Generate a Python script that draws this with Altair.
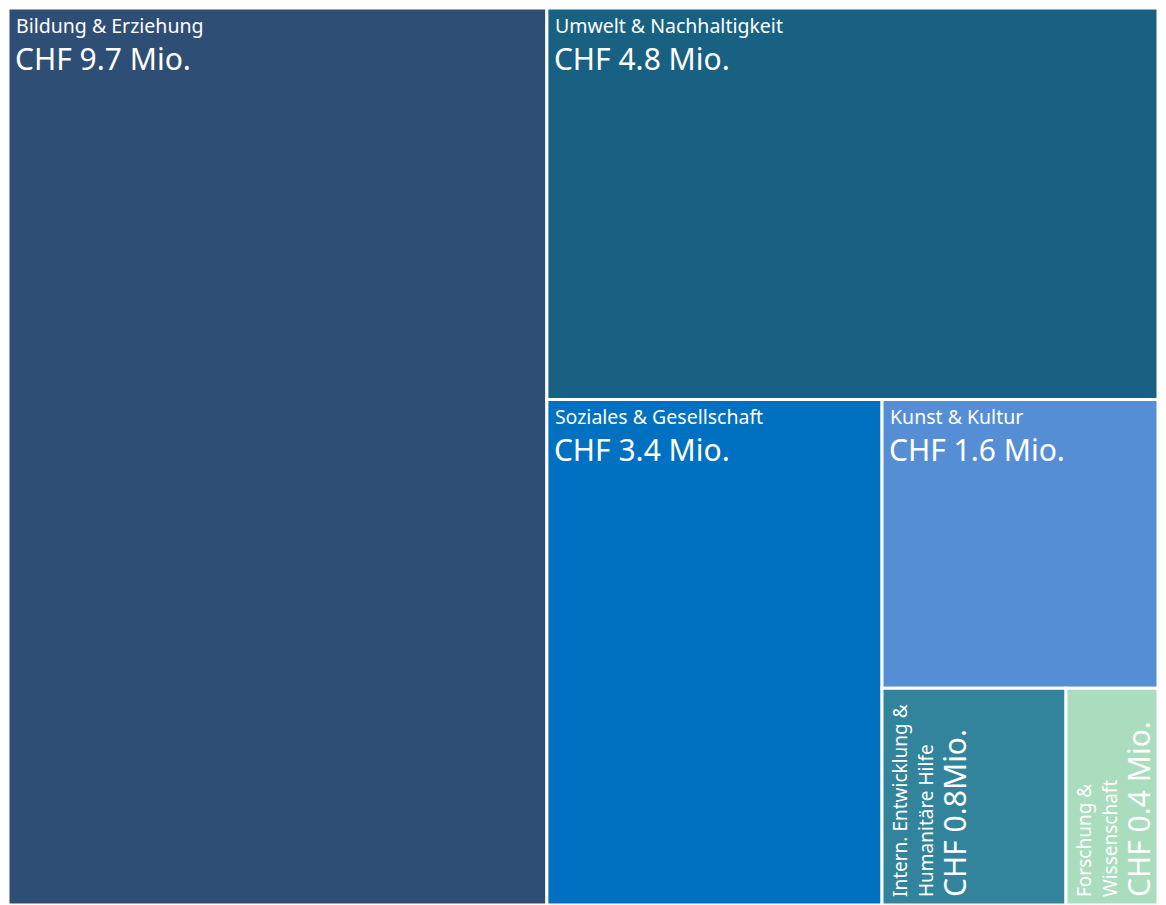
import altair as alt
import pandas as pd

# ---- data ----
categories = [
    "Bildung & Erziehung",
    "Umwelt & Nachhaltigkeit",
    "Soziales & Gesellschaft",
    "Kunst & Kultur",
    "Intern. Entwicklung &\nHumanitäre Hilfe",
    "Forschung &\nWissenschaft",
]
values = [9.7, 4.8, 3.4, 1.6, 0.8, 0.4]
value_labels = [
    "CHF 9.7 Mio.",
    "CHF 4.8 Mio.",
    "CHF 3.4 Mio.",
    "CHF 1.6 Mio.",
    "CHF 0.8Mio.",
    "CHF 0.4 Mio.",
]
colors = ["#2E4E76", "#186183", "#0070C0", "#558ED5", "#31849B", "#A9DDBE"]

W, H = 1150, 897
FONT = "Noto Sans"


def worst(row, side):
    s = sum(row)
    return max(max(side * side * r / (s * s), (s * s) / (side * side * r)) for r in row)


def squarify(vals, x, y, w, h):
    total = sum(vals)
    areas = [v * w * h / total for v in vals]
    rects = []
    rest = areas[:]
    while rest:
        side = min(w, h)
        row = [rest[0]]
        i = 1
        while i < len(rest) and worst(row + [rest[i]], side) <= worst(row, side):
            row.append(rest[i])
            i += 1
        s = sum(row)
        if w >= h:
            cw = s / h
            yy = y
            for r in row:
                rh = r / cw
                rects.append((x, x + cw, yy, yy + rh))
                yy += rh
            x += cw
            w -= cw
        else:
            rh = s / w
            xx = x
            for r in row:
                rw = r / rh
                rects.append((xx, xx + rw, y, y + rh))
                xx += rw
            y += rh
            h -= rh
        rest = rest[len(row):]
    return rects


rects = squarify(values, 0, 0, W, H)
df = pd.DataFrame(
    {
        "name": categories,
        "value": values,
        "vlabel": value_labels,
        "x0": [r[0] for r in rects],
        "x1": [r[1] for r in rects],
        "y0": [r[2] for r in rects],
        "y1": [r[3] for r in rects],
    }
)
df["vertical"] = (df["x1"] - df["x0"]) < 200

xs = alt.Scale(domain=[0, W], nice=False, zero=False)
ys = alt.Scale(domain=[0, H], nice=False, zero=False, reverse=True)

base = alt.Chart(df)

boxes = base.mark_rect(stroke="white", strokeWidth=3).encode(
    x=alt.X("x0:Q", scale=xs, axis=None),
    x2="x1:Q",
    y=alt.Y("y0:Q", scale=ys, axis=None),
    y2="y1:Q",
    color=alt.Color("name:N", scale=alt.Scale(domain=categories, range=colors), legend=None),
)

horiz = base.transform_filter("!datum.vertical")
vert = base.transform_filter("datum.vertical")

h_label = horiz.mark_text(
    align="left", baseline="alphabetic", dx=8, dy=25, fontSize=19.5, font=FONT, color="white"
).encode(x=alt.X("x0:Q", scale=xs), y=alt.Y("y0:Q", scale=ys), text="name:N")

h_value = horiz.mark_text(
    align="left", baseline="alphabetic", dx=7, dy=62, fontSize=30, font=FONT, color="white"
).encode(x=alt.X("x0:Q", scale=xs), y=alt.Y("y0:Q", scale=ys), text="vlabel:N")

v_label = vert.mark_text(
    align="left", baseline="alphabetic", angle=270, dx=8, dy=25, fontSize=19,
    lineHeight=26, lineBreak="\n", font=FONT, color="white"
).encode(x=alt.X("x0:Q", scale=xs), y=alt.Y("y1:Q", scale=ys), text="name:N")

v_value = vert.mark_text(
    align="left", baseline="alphabetic", angle=270, dx=8, dy=84, fontSize=30,
    font=FONT, color="white"
).encode(x=alt.X("x0:Q", scale=xs), y=alt.Y("y1:Q", scale=ys), text="vlabel:N")

chart = (
    alt.layer(boxes, h_label, h_value, v_label, v_value)
    .properties(width=W, height=H, padding=0, autosize="none", background="white")
    .configure_view(stroke=None)
)

chart.save("out.html", embed_options={"renderer": "svg", "actions": False})
